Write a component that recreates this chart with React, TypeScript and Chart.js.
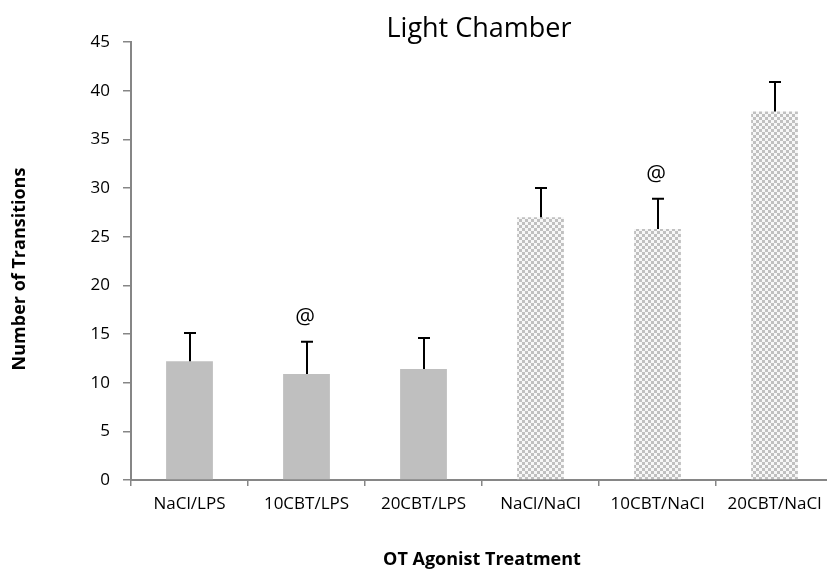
import React, { useEffect, useRef } from "react";
import { Chart, registerables } from "chart.js";

Chart.register(...registerables);

const categories = ["NaCl/LPS", "10CBT/LPS", "20CBT/LPS", "NaCl/NaCl", "10CBT/NaCl", "20CBT/NaCl"];
const means = [12.2, 10.9, 11.4, 27.0, 25.8, 37.85];
const errors = [2.9, 3.3, 3.2, 3.0, 3.1, 3.05];
const markers = ["", "@", "", "", "@", ""];
const patterned = [false, false, false, true, true, true];
const yMin = 0;
const yMax = 45;
const yStep = 5;

const chartTitle = "Light Chamber";
const xTitle = "OT Agonist Treatment";
const yTitle = "Number of Transitions";

const FONT = "'Open Sans', 'DejaVu Sans', sans-serif";

function makePattern(): CanvasPattern | string {
  const c = document.createElement("canvas");
  c.width = 6;
  c.height = 6;
  const g = c.getContext("2d");
  if (!g) return "#d0d0d0";
  g.fillStyle = "#f7f7f7";
  g.fillRect(0, 0, 6, 6);
  g.fillStyle = "#c0c0c0";
  g.fillRect(0, 0, 3, 3);
  g.fillRect(3, 3, 3, 3);
  const p = g.createPattern(c, "repeat");
  return p || "#d0d0d0";
}

const overlayPlugin = {
  id: "overlay",
  afterDatasetsDraw(chart: any) {
    const ctx = chart.ctx;
    const xs = chart.scales.x;
    const ys = chart.scales.y;
    ctx.save();
    ctx.strokeStyle = "#000";
    ctx.lineWidth = 2;
    means.forEach((m, i) => {
      const x = Math.round(xs.getPixelForValue(i));
      const yb = ys.getPixelForValue(m);
      const yt = ys.getPixelForValue(m + errors[i]);
      ctx.beginPath();
      ctx.moveTo(x, yb);
      ctx.lineTo(x, yt);
      ctx.moveTo(x - 6, yt);
      ctx.lineTo(x + 6, yt);
      ctx.stroke();
      if (markers[i]) {
        ctx.fillStyle = "#000";
        ctx.font = `22px ${FONT}`;
        ctx.textAlign = "center";
        ctx.textBaseline = "alphabetic";
        ctx.fillText(markers[i], x - 2, yt - 18);
      }
    });
    ctx.restore();
  },
  afterDraw(chart: any) {
    const ctx = chart.ctx;
    const area = chart.chartArea;
    const cx = (area.left + area.right) / 2;
    ctx.save();
    ctx.fillStyle = "#000";
    ctx.textAlign = "center";
    ctx.textBaseline = "alphabetic";
    ctx.font = `27px ${FONT}`;
    ctx.fillText(chartTitle, cx - 3, 37);
    ctx.font = `bold 18px ${FONT}`;
    ctx.fillText(xTitle, cx, 565);
    ctx.translate(25, 269);
    ctx.rotate(-Math.PI / 2);
    ctx.fillText(yTitle, 0, 0);
    ctx.restore();
  },
};

export default function App() {
  const ref = useRef<HTMLCanvasElement | null>(null);
  useEffect(() => {
    if (!ref.current) return;
    const pat = makePattern();
    const colors = patterned.map((p) => (p ? pat : "#bfbfbf"));
    const chart = new Chart(ref.current, {
      type: "bar",
      data: {
        labels: categories,
        datasets: [
          {
            data: means,
            backgroundColor: colors as any,
            borderWidth: 0,
            barPercentage: 0.4,
            categoryPercentage: 1.0,
          },
        ],
      },
      options: {
        responsive: false,
        animation: false,
        layout: { padding: { left: 0, top: 42, right: 7, bottom: 0 } },
        plugins: { legend: { display: false }, tooltip: { enabled: false }, title: { display: false } },
        scales: {
          x: {
            type: "category",
            offset: true,
            grid: {
              display: true,
              offset: true,
              drawOnChartArea: false,
              drawTicks: true,
              tickLength: 6,
              color: "#868686",
              lineWidth: 1.5,
            },
            border: { display: true, color: "#868686", width: 2 },
            ticks: {
              color: "#000",
              font: { family: FONT, size: 17 },
              padding: 8,
              maxRotation: 0,
              minRotation: 0,
              autoSkip: false,
            },
            afterFit: (s: any) => {
              s.height = 91;
            },
          },
          y: {
            min: yMin,
            max: yMax,
            grid: {
              display: true,
              drawOnChartArea: false,
              drawTicks: true,
              tickLength: 8,
              color: "#868686",
              lineWidth: 1.5,
            },
            border: { display: true, color: "#868686", width: 2 },
            ticks: {
              stepSize: yStep,
              color: "#000",
              font: { family: FONT, size: 17 },
              padding: 13,
            },
            afterFit: (s: any) => {
              s.width = 131;
            },
          },
        },
      },
      plugins: [overlayPlugin],
    });
    return () => chart.destroy();
  }, []);
  return (
    <div style={{ position: "fixed", left: 0, top: 0, width: 827, height: 571, overflow: "hidden", background: "#fff" }}>
      <canvas ref={ref} width={840} height={571} style={{ display: "block", width: 840, height: 571 }} />
    </div>
  );
}
